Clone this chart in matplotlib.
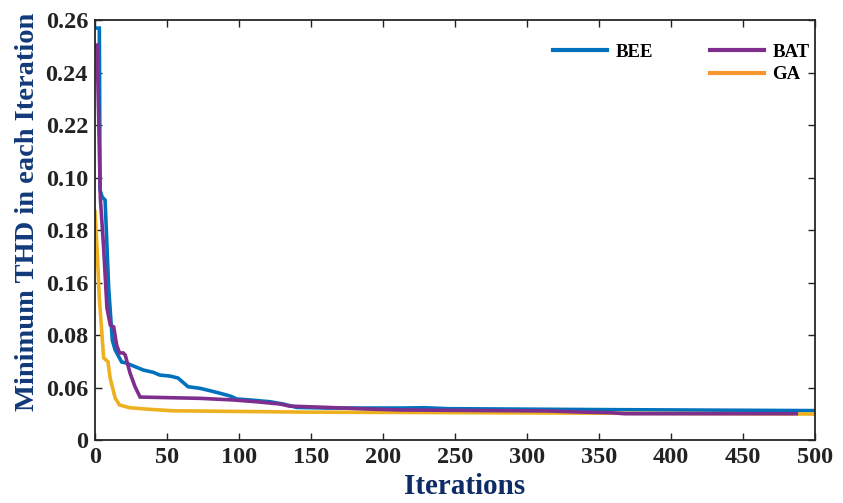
import matplotlib
matplotlib.use("Agg")
import matplotlib.pyplot as plt
from matplotlib.lines import Line2D

# convergence of the best THD found per iteration
bee_iter = [0, 3, 3.5, 5, 7, 9.5, 12, 14, 18.5, 21.6, 33.6, 40.5, 45, 52, 57.6, 64.6, 73, 80,
            87, 94, 98.4, 107.6, 121.5, 130.7, 140, 161, 212, 229, 245, 357, 500]
bee_thd = [0.2550, 0.2550, 0.1548, 0.1504, 0.1486, 0.0941, 0.0619, 0.0557, 0.0483, 0.0477,
           0.0433, 0.0419, 0.0402, 0.0396, 0.0384, 0.0330, 0.0320, 0.0305, 0.0289, 0.0272,
           0.0254, 0.0248, 0.0237, 0.0223, 0.0202, 0.0198, 0.0198, 0.0200, 0.0194, 0.0188, 0.0182]

bat_iter = [0, 1.4, 2.5, 3.7, 6, 8.3, 10.6, 13, 15, 17, 19.6, 21, 24.3, 27.8, 31.3, 73, 96,
            112, 128.5, 135, 161, 189, 212, 314, 339, 358, 368, 487]
bat_thd = [0.2445, 0.2445, 0.2012, 0.1498, 0.1189, 0.0817, 0.0712, 0.0700, 0.0588, 0.0539,
           0.0539, 0.0526, 0.0415, 0.0330, 0.0266, 0.0258, 0.0248, 0.0237, 0.0223, 0.0210,
           0.0202, 0.0192, 0.0186, 0.0180, 0.0173, 0.0169, 0.0163, 0.0163]

ga_iter = [0, 1.4, 3, 6, 9, 10.5, 14, 17, 24, 38, 54, 143, 500]
ga_thd = [0.1413, 0.1189, 0.0879, 0.0508, 0.0485, 0.0384, 0.0260, 0.0217, 0.0200, 0.0190,
          0.0181, 0.0173, 0.0161]

y_ticks = [0, 0.0325, 0.065, 0.0975, 0.13, 0.1625, 0.195, 0.2275, 0.26]
y_tick_labels = ["0", "0.06", "0.08", "0.16", "0.18", "0.10", "0.22", "0.24", "0.26"]
x_ticks = list(range(0, 501, 50))

BLUE = "#0072BD"
PURPLE = "#7E2F8E"
YELLOW = "#EDB120"
NAVY = "#0D2C66"

plt.rcParams["font.family"] = ["Liberation Serif", "DejaVu Serif"]
plt.rcParams["font.weight"] = "bold"

fig = plt.figure(figsize=(8.43, 5.03), dpi=100)
ax = fig.add_axes([0.1127, 0.1252, 0.8541, 0.835])

ax.plot(bee_iter, bee_thd, color=BLUE, lw=2.6, solid_joinstyle="miter")
ax.plot(ga_iter, ga_thd, color=YELLOW, lw=2.6, solid_joinstyle="miter")
ax.plot(bat_iter, bat_thd, color=PURPLE, lw=2.6, solid_joinstyle="miter")

ax.set_xlim(0, 500)
ax.set_ylim(0, 0.26)
ax.set_xticks(x_ticks)
ax.set_yticks(y_ticks)
ax.set_yticklabels(y_tick_labels)
ax.tick_params(direction="in", length=5, width=1, top=True, right=True,
               labelsize=17.5, colors="#222222", pad=5)
for lbl in ax.get_xticklabels() + ax.get_yticklabels():
    lbl.set_fontweight("bold")
for sp in ax.spines.values():
    sp.set_linewidth(1.3)
    sp.set_color("#262626")

ax.set_xlabel("Iterations", fontsize=21, fontweight="bold", color=NAVY)
ax.set_ylabel("Minimum THD in each Iteration", fontsize=20.5, fontweight="bold",
              color="#123A7A")
ax.xaxis.set_label_coords(0.514, -0.078)
ax.yaxis.set_label_coords(-0.076, 0.543)

handles = [Line2D([], [], color=BLUE, lw=3),
           Line2D([], [], color="none"),
           Line2D([], [], color=PURPLE, lw=3),
           Line2D([], [], color="#F7962F", lw=3)]
labels = ["BEE", "", "BAT", "GA"]
ax.legend(handles, labels, ncol=2, frameon=False, loc="upper left",
          bbox_to_anchor=(0.6256, 0.962), prop={"size": 13.5, "weight": "bold"},
          handlelength=2.9, handletextpad=0.45, columnspacing=3.0,
          labelspacing=0.3, borderaxespad=0)

fig.savefig("out.png", dpi=100)
